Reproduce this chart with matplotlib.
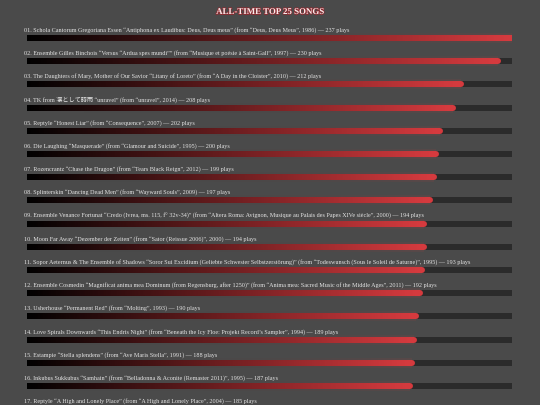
import numpy as np
import matplotlib
matplotlib.use("Agg")
import matplotlib.pyplot as plt
import matplotlib.patheffects as pe
from matplotlib.collections import LineCollection
from matplotlib.colors import LinearSegmentedColormap

plt.rcParams['font.family'] = ['Liberation Serif', 'Noto Sans CJK JP']

# chart data (only the first 17 rows are visible in the picture)
artists = [
    "Schola Cantorum Gregoriana Essen", "Ensemble Gilles Binchois",
    "The Daughters of Mary, Mother of Our Savior", "TK from 凛として時雨",
    "Reptyle", "Die Laughing", "Rozencrantz", "Splinterskin",
    "Ensemble Venance Fortunat", "Moon Far Away",
    "Sopor Aeternus & The Ensemble of Shadows", "Ensemble Cosmedin",
    "Usherhouse", "Love Spirals Downwards", "Estampie", "Inkubus Sukkubus",
    "Reptyle",
]
tracks = [
    "Antiphona ex Laudibus: Deus, Deus meus", "Versus “Ardua spes mundi”",
    "Litany of Loreto", "unravel", "Honest Liar", "Masquerade",
    "Chase the Dragon", "Dancing Dead Men",
    "Credo (Ivrea, ms. 115, f° 32v-34)", "Dezember der Zeiten",
    "Soror Sui Excidium (Geliebte Schwester Selbstzerstörung)",
    "Magnificat anima mea Dominum (from Regensburg, after 1250)",
    "Permanent Red", "This Endris Night", "Stella splendens", "Samhain",
    "A High and Lonely Place",
]
albums = [
    "Deus, Deus Meus", "Musique et poésie à Saint-Gall", "A Day in the Cloister",
    "unravel", "Consequence", "Glamour and Suicide", "Tears Black Reign",
    "Wayward Souls",
    "Altera Roma: Avignon, Musique au Palais des Papes XIVe siècle",
    "Sator (Reissue 2006)", "Todeswunsch (Sous le Soleil de Saturne)",
    "Anima mea: Sacred Music of the Middle Ages", "Molting",
    "Beneath the Icy Floe: Projekt Record’s Sampler", "Ave Maris Stella",
    "Belladonna & Aconite (Remaster 2011)", "A High and Lonely Place",
]
years = [1986, 1997, 2010, 2014, 2007, 1995, 2012, 2009, 2000, 2000, 1995,
         2011, 1993, 1994, 1991, 1995, 2004]
plays = [237, 230, 212, 208, 202, 200, 199, 197, 194, 194, 193, 192, 190,
         189, 188, 187, 185]

bg = '#4a4a4a'
track_col = '#2b2b2b'
cmap = LinearSegmentedColormap.from_list('redfade', ['#000000', '#d53a3e'])

fig = plt.figure(figsize=(5.4, 4.05), dpi=100, facecolor=bg)

# title in pixel coords
tax = fig.add_axes([0, 0, 1, 1])
tax.set_xlim(0, 540)
tax.set_ylim(405, 0)
tax.axis('off')
tax.text(270, 12, "ALL-TIME TOP 25 SONGS", ha='center', va='center',
         fontsize=6.4, fontweight='bold', color='#f8ecec',
         path_effects=[pe.withStroke(linewidth=1.0, foreground='#8c2a30')])

# bar axes: 0 plays at x=27px, max plays at x=512px, rows 23.2px apart
pitch = 23.2
top = 38.0
ax = fig.add_axes([27 / 540, 0, 485 / 540, 1])
ax.set_facecolor('none')
ax.set_xlim(0, max(plays))
ax.set_ylim((405 - top) / pitch, -top / pitch)
ax.axis('off')

lw = 6 * 0.72  # 6 px
nseg = 150
for i, p in enumerate(plays):
    label = "%02d. %s “%s” (from “%s”, %d) — %d plays" % (
        i + 1, artists[i], tracks[i], albums[i], years[i], p)
    ax.annotate(label, (0, i), xytext=(-3, 8), textcoords='offset pixels',
                ha='left', va='center', fontsize=4.45, color='#e4e4e4',
                annotation_clip=False)

    ax.plot([0, max(plays)], [i, i], color=track_col, lw=lw,
            solid_capstyle='round', zorder=1)

    xs = np.linspace(0, p, nseg + 1)
    segs = [[(xs[k], i), (xs[k + 1], i)] for k in range(nseg)]
    t = np.linspace(0, 1, nseg)
    cols = cmap(t)

    # soft red glow, stronger toward the bright end
    glow = cmap(t)
    glow[:, 3] = 0.12 * t ** 2
    ax.add_collection(LineCollection(segs, colors=glow, linewidths=lw * 1.6,
                                     capstyle='butt', zorder=2))
    ax.add_collection(LineCollection(segs, colors=cols, linewidths=lw,
                                     capstyle='round', zorder=3))

fig.savefig('out.png', dpi=100, facecolor=bg)
